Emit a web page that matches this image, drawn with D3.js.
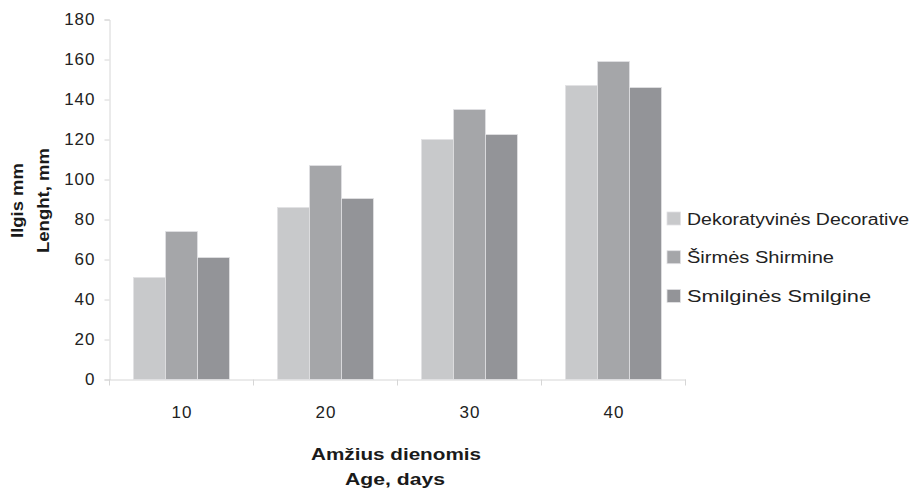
<!DOCTYPE html>
<html>
<head>
<meta charset="utf-8">
<script src="https://cdn.jsdelivr.net/npm/d3@7"></script>
<style>
  html, body { margin: 0; padding: 0; background: #fff; }
  svg { display: block; font-family: "Liberation Sans", Arial, sans-serif; }
</style>
</head>
<body>
<svg id="chart" width="914" height="491"></svg>
<script>
// Age groups (days) on the x axis
const ages = ["10", "20", "30", "40"];
// Series names and mean lengths (mm) per age group
const seriesNames = ["Dekoratyvinės Decorative", "Širmės Shirmine", "Smilginės Smilgine"];
const decorative = [51, 86, 120, 147];
const shirmine = [74, 107, 135, 159];
const smilgine = [61, 90.5, 122.5, 146];
const seriesColors = ["#c8c9cb", "#a5a6a9", "#939498"];
const yTicks = [0, 20, 40, 60, 80, 100, 120, 140, 160, 180];

const seriesValues = [decorative, shirmine, smilgine];
const legendWidths = [222, 147, 184];

const svg = d3.select("#chart");
const plotLeft = 109.5, plotRight = 685.5, plotTop = 19.5, plotBottom = 379.5;
const axisColor = "#d6d6d6";
const textColor = "#222";

const x = d3.scaleBand().domain(ages).range([plotLeft, plotRight]).paddingInner(0).paddingOuter(0);
const inner = d3.scaleBand().domain(d3.range(seriesNames.length))
  .range([0, x.bandwidth()]).paddingInner(0).paddingOuter(0.75);
const y = d3.scaleLinear().domain([0, 180]).range([plotBottom, plotTop]);

// Y axis
const yAxis = svg.append("g").attr("transform", `translate(${plotLeft},0)`)
  .call(d3.axisLeft(y).tickValues(yTicks).tickSize(5).tickPadding(9));
yAxis.select(".domain").attr("stroke", axisColor);
yAxis.selectAll(".tick line").attr("stroke", axisColor);
yAxis.selectAll(".tick text").attr("font-size", 17).attr("fill", textColor)
  .attr("letter-spacing", 1)
  .attr("font-family", "Liberation Sans, Arial, sans-serif");

// X axis
const xAxis = svg.append("g").attr("transform", `translate(0,${plotBottom})`)
  .call(d3.axisBottom(x).tickSize(0).tickPadding(26));
xAxis.select(".domain").attr("stroke", axisColor);
xAxis.selectAll(".tick text").attr("font-size", 17).attr("fill", textColor)
  .attr("letter-spacing", 1).attr("dx", "0.5")
  .attr("font-family", "Liberation Sans, Arial, sans-serif");
// tick marks on the category boundaries
const boundaries = ages.map(a => x(a)).concat([plotRight]);
svg.append("g").selectAll("line").data(boundaries).join("line")
  .attr("x1", d => d).attr("x2", d => d)
  .attr("y1", plotBottom).attr("y2", plotBottom + 6)
  .attr("stroke", axisColor);

// Bars
const groups = svg.append("g").selectAll("g").data(ages).join("g")
  .attr("transform", d => `translate(${x(d)},0)`);
groups.selectAll("rect")
  .data((d, i) => seriesValues.map((vals, s) => ({ s, v: vals[i] })))
  .join("rect")
  .attr("x", d => inner(d.s))
  .attr("width", inner.bandwidth())
  .attr("y", d => y(d.v))
  .attr("height", d => y(0) - y(d.v))
  .attr("fill", d => seriesColors[d.s])
  .attr("stroke", "#e2e2e4")
  .attr("stroke-width", 0.8);

// Legend
const legend = svg.append("g").attr("transform", "translate(667,212)");
const items = legend.selectAll("g").data(seriesNames).join("g")
  .attr("transform", (d, i) => `translate(0,${i * 38.7})`);
items.append("rect").attr("width", 13.5).attr("height", 13)
  .attr("fill", (d, i) => seriesColors[i]).attr("stroke", "#e2e2e4").attr("stroke-width", 0.8);
items.append("text").attr("x", 20).attr("y", 12.5)
  .attr("font-size", 16).attr("fill", textColor)
  .attr("textLength", (d, i) => legendWidths[i]).attr("lengthAdjust", "spacingAndGlyphs")
  .text(d => d);

// Axis titles
const yTitle = svg.append("g").attr("transform", "translate(0,200.5) rotate(-90)");
yTitle.append("text").attr("x", 0).attr("y", 23).attr("text-anchor", "middle")
  .attr("font-size", 16).attr("font-weight", "bold").attr("fill", "#1a1a1a")
  .attr("textLength", 75).attr("lengthAdjust", "spacingAndGlyphs").text("Ilgis mm");
yTitle.append("text").attr("x", 0).attr("y", 49).attr("text-anchor", "middle")
  .attr("font-size", 16).attr("font-weight", "bold").attr("fill", "#1a1a1a")
  .attr("textLength", 105).attr("lengthAdjust", "spacingAndGlyphs").text("Lenght, mm");

svg.append("text").attr("x", 396).attr("y", 460).attr("text-anchor", "middle")
  .attr("font-size", 16).attr("font-weight", "bold").attr("fill", "#1a1a1a")
  .attr("textLength", 170).attr("lengthAdjust", "spacingAndGlyphs").text("Amžius dienomis");
svg.append("text").attr("x", 395).attr("y", 484.5).attr("text-anchor", "middle")
  .attr("font-size", 16).attr("font-weight", "bold").attr("fill", "#1a1a1a")
  .attr("textLength", 100).attr("lengthAdjust", "spacingAndGlyphs").text("Age, days");
</script>
</body>
</html>
